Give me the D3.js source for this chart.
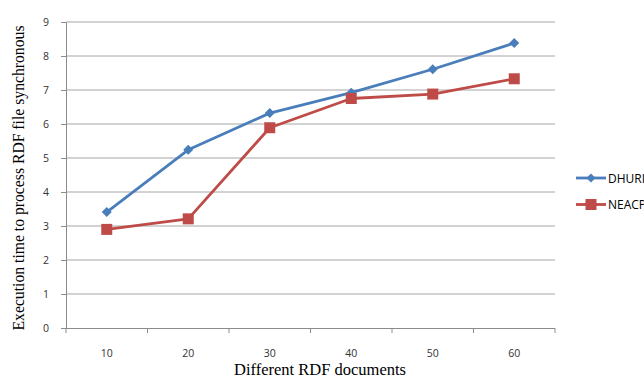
<!DOCTYPE html>
<html>
<head>
<meta charset="utf-8">
<script src="https://cdn.jsdelivr.net/npm/d3@7"></script>
<style>
  html, body { margin: 0; padding: 0; background: #fff; }
  svg { display: block; }
</style>
</head>
<body>
<svg id="chart" width="644" height="380"></svg>
<script>
// Document counts along the x axis
const categories = ["10", "20", "30", "40", "50", "60"];
// Execution times per series
const dhuriValues = [3.41, 5.24, 6.32, 6.92, 7.61, 8.38];
const neacpValues = [2.9, 3.21, 5.89, 6.75, 6.88, 7.33];
const seriesNames = ["DHURI", "NEACP"];
const yTicks = [0, 1, 2, 3, 4, 5, 6, 7, 8, 9];

const series = [
  { name: seriesNames[0], values: dhuriValues, color: "#4a7ebb", shape: "diamond" },
  { name: seriesNames[1], values: neacpValues, color: "#be4b48", shape: "square" }
];

const svg = d3.select("#chart");
const plotLeft = 66, plotRight = 555, plotTop = 22, plotBottom = 328;

const x = d3.scaleBand().domain(categories).range([plotLeft, plotRight]);
const y = d3.scaleLinear().domain([0, 9]).range([plotBottom, plotTop]);

// Horizontal gridlines
svg.append("g")
  .selectAll("line")
  .data(yTicks.filter(d => d > 0))
  .join("line")
  .attr("x1", plotLeft).attr("x2", plotRight)
  .attr("y1", d => y(d)).attr("y2", d => y(d))
  .attr("stroke", "#a6a6a6").attr("stroke-width", 1);

// Y axis
const yAxis = svg.append("g")
  .attr("transform", `translate(${plotLeft},0)`)
  .call(d3.axisLeft(y).tickValues(yTicks).tickSize(5).tickPadding(12).tickFormat(d3.format("d")));
yAxis.select(".domain").attr("stroke", "#8c8c8c");
yAxis.selectAll(".tick line").attr("stroke", "#8c8c8c");
yAxis.selectAll(".tick text")
  .attr("font-family", "'Open Sans', 'DejaVu Sans', sans-serif")
  .attr("font-size", 10.5).attr("fill", "#333");

// X axis with ticks between categories
const xAxisG = svg.append("g").attr("transform", `translate(0,${plotBottom})`);
xAxisG.append("line")
  .attr("x1", plotLeft).attr("x2", plotRight).attr("y1", 0.5).attr("y2", 0.5)
  .attr("stroke", "#8c8c8c");
const boundaries = categories.map(c => x(c)).concat([plotRight]);
xAxisG.selectAll("line.tk")
  .data(boundaries)
  .join("line").attr("class", "tk")
  .attr("x1", d => d).attr("x2", d => d)
  .attr("y1", 0).attr("y2", 5)
  .attr("stroke", "#8c8c8c");
xAxisG.selectAll("text")
  .data(categories)
  .join("text")
  .attr("x", d => x(d) + x.bandwidth() / 2)
  .attr("y", 29)
  .attr("text-anchor", "middle")
  .attr("font-family", "'Open Sans', 'DejaVu Sans', sans-serif")
  .attr("font-size", 10.5).attr("fill", "#333")
  .text(d => d);

// Axis titles
svg.append("text")
  .attr("x", 320).attr("y", 375)
  .attr("text-anchor", "middle")
  .attr("font-family", "'Liberation Serif', serif")
  .attr("font-size", 16.5).attr("fill", "#000")
  .text("Different RDF documents");
svg.append("text")
  .attr("transform", `translate(24,${(plotTop + plotBottom) / 2 + 3}) rotate(-90)`)
  .attr("text-anchor", "middle")
  .attr("font-family", "'Liberation Serif', serif")
  .attr("font-size", 15.7).attr("fill", "#000")
  .text("Execution time to process RDF file synchronous");

const line = d3.line()
  .x((d, i) => x(categories[i]) + x.bandwidth() / 2)
  .y(d => y(d));

function drawMarker(g, shape, color, cx, cy, s) {
  if (shape === "diamond") {
    g.append("path")
      .attr("d", `M${cx},${cy - s}L${cx + s},${cy}L${cx},${cy + s}L${cx - s},${cy}Z`)
      .attr("fill", color);
  } else {
    g.append("rect")
      .attr("x", cx - s).attr("y", cy - s)
      .attr("width", 2 * s).attr("height", 2 * s)
      .attr("fill", color);
  }
}

series.forEach(s => {
  const g = svg.append("g");
  g.append("path")
    .datum(s.values)
    .attr("d", line)
    .attr("fill", "none")
    .attr("stroke", s.color)
    .attr("stroke-width", 2.8)
    .attr("stroke-linejoin", "round");
  s.values.forEach((v, i) => {
    drawMarker(g, s.shape, s.color, x(categories[i]) + x.bandwidth() / 2, y(v), s.shape === "diamond" ? 5 : 5.5);
  });
});

// Legend
const legend = svg.append("g");
series.forEach((s, i) => {
  const ly = 178 + i * 26.5;
  legend.append("line")
    .attr("x1", 576).attr("x2", 606).attr("y1", ly).attr("y2", ly)
    .attr("stroke", s.color).attr("stroke-width", 2.8);
  drawMarker(legend, s.shape, s.color, 591, ly, s.shape === "diamond" ? 4.5 : 5.5);
  legend.append("text")
    .attr("x", 608).attr("y", ly + 4.5)
    .attr("font-family", "'Open Sans', 'DejaVu Sans', sans-serif")
    .attr("font-size", 12).attr("fill", "#000")
    .text(s.name);
});
</script>
</body>
</html>
